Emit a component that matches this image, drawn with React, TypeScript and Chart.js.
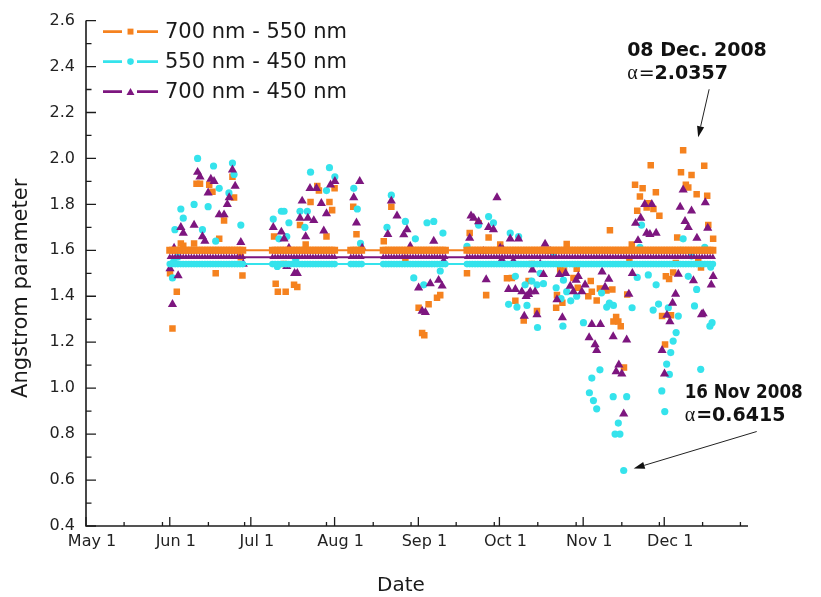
import React, { useEffect, useRef } from 'react';
import { Chart, registerables } from 'chart.js';

Chart.register(...registerables);

// ---------- colours ----------
const ORANGE = '#F5821F';
const CYAN = '#35E3EC';
const PURPLE = '#7D167F';

// ---------- axes ----------
const monthDays = [0, 31, 61, 92, 123, 153, 184, 214]; // days since May 1, 2008
const monthLabels = ['May 1', 'Jun 1', 'Jul 1', 'Aug 1', 'Sep 1', 'Oct 1', 'Nov 1', 'Dec 1'];
const xMinorTicks = [14.1, 28.3, 45.3, 58.7, 75.1, 89, 106.3, 120.3, 137, 151.1, 167.2, 181.4, 198.3, 212.2, 228.2, 242.2];
const yTicks = [0.4, 0.6, 0.8, 1.0, 1.2, 1.4, 1.6, 1.8, 2.0, 2.2, 2.4, 2.6];
const yMinorTicks = [0.5, 0.7, 0.9, 1.1, 1.3, 1.5, 1.7, 1.9, 2.1, 2.3, 2.5];

// ---------- legend ----------
const seriesLabels = ['700 nm - 550 nm', '550 nm - 450 nm', '700 nm - 450 nm'];

// ---------- observation periods (days since May 1) ----------
const obsPeriods: [number, number][] = [[31, 58], [69, 92], [98, 102], [110, 133], [141, 232]];

// ---------- mean values ----------
const mean700_550 = 1.60;
const mean550_450 = 1.54;
const mean700_450 = 1.57;

// ---------- daily Angstrom values [day since May 1, value] ----------
const a700_550: [number, number][] = [
  [31.1, 1.50], [32, 1.26], [33.6, 1.42], [35.1, 1.63], [36, 1.62], [40, 1.63], [40.9, 1.89], [42.2, 1.89],
  [45.6, 1.885], [46.8, 1.855], [48, 1.50], [49.3, 1.65], [51.1, 1.73], [54.2, 1.92], [54.8, 1.83], [57.3, 1.57], [57.9, 1.49],
  [69.6, 1.66], [70.2, 1.455], [71, 1.42], [73.3, 1.54], [73.9, 1.42], [77, 1.45], [78.2, 1.44], [79.2, 1.71], [81.3, 1.625],
  [83.1, 1.81], [85.6, 1.88], [86.2, 1.86], [89, 1.66], [90.1, 1.81], [91.1, 1.775], [92, 1.87],
  [98.9, 1.79], [100.1, 1.67], [110.2, 1.64], [113, 1.79],
  [118.2, 1.567], [123.1, 1.35], [124.4, 1.24], [125.2, 1.23], [126.8, 1.365], [129.9, 1.394], [131.1, 1.405],
  [141, 1.50], [142, 1.675], [145.3, 1.718], [148.1, 1.405], [149, 1.656], [153.3, 1.625], [155.8, 1.478], [157.6, 1.48],
  [158.9, 1.38], [162, 1.295], [163.8, 1.466], [165, 1.54], [166.9, 1.336], [174, 1.35], [174.3, 1.405], [175.5, 1.517],
  [176.3, 1.372], [176.9, 1.512], [177.9, 1.627], [180.4, 1.48], [181.6, 1.52], [182, 1.437], [185.9, 1.40], [186.8, 1.466],
  [187.2, 1.42], [189, 1.382], [190.2, 1.434], [192.6, 1.425], [193.9, 1.687], [194.8, 1.43], [195.2, 1.29], [196.2, 1.31],
  [197, 1.29], [197.9, 1.27], [199.1, 1.09], [200.3, 1.408], [201.1, 1.553], [202, 1.625], [203.2, 1.885], [204, 1.772],
  [205, 1.834], [206, 1.87], [207.5, 1.786], [208.2, 1.805], [209, 1.97], [210, 1.78], [210.9, 1.853], [212.2, 1.75],
  [213.2, 1.314], [214.3, 1.19], [214.6, 1.487], [215.8, 1.475], [216.5, 1.317], [217.3, 1.503], [218.3, 1.545], [218.8, 1.656],
  [220.2, 1.94], [221, 2.0357], [222, 1.885], [222.9, 1.873], [224.1, 1.928], [226, 1.844], [226.6, 1.553], [227.6, 1.525],
  [228.8, 1.968], [229.9, 1.838], [230.3, 1.71], [232.1, 1.65],
];

const a550_450: [number, number][] = [
  [32, 1.48], [32.4, 1.55], [32.9, 1.69], [33.9, 1.57], [35.1, 1.78], [36, 1.74], [40, 1.80], [41.3, 2.0], [43.1, 1.69],
  [45.2, 1.79], [47.2, 1.967], [48, 1.64], [49.3, 1.87], [52.9, 1.85], [54.2, 1.98], [54.8, 1.93], [57.3, 1.71],
  [69.3, 1.736], [70.8, 1.53], [71.4, 1.65], [72.3, 1.77], [73.3, 1.77], [74.3, 1.66], [75.1, 1.72], [77.6, 1.56],
  [79.2, 1.77], [81, 1.70], [81.9, 1.77], [83.1, 1.94], [89, 1.86], [90.1, 1.96], [92.1, 1.92],
  [99.1, 1.87], [100.4, 1.78], [101.6, 1.63], [111.4, 1.70], [113, 1.84],
  [118.2, 1.726], [121.3, 1.48], [121.9, 1.65], [125, 1.45], [126.2, 1.72], [128.7, 1.726], [131.1, 1.51], [132.1, 1.675],
  [141, 1.617], [145.3, 1.71], [149, 1.747], [150.8, 1.72], [156.4, 1.365], [157, 1.675], [158.9, 1.487], [159.5, 1.353],
  [160.1, 1.66], [162.5, 1.45], [163.2, 1.36], [165, 1.466], [166.9, 1.45], [167.1, 1.264], [168.1, 1.50], [169.3, 1.455],
  [173, 1.59], [174, 1.437], [175.8, 1.39], [176.5, 1.27], [176.7, 1.47], [177.9, 1.42], [179.4, 1.38], [181.6, 1.40],
  [184.1, 1.285], [186.3, 0.98], [187.2, 1.044], [187.8, 0.946], [189, 0.91], [190.2, 1.08], [190.8, 1.415], [192.7, 1.353],
  [193.7, 1.37], [195.2, 1.36], [195.1, 0.963], [195.8, 0.80], [197, 0.848], [197.6, 0.80], [199, 0.6415], [200.1, 0.963],
  [202.1, 1.35], [204, 1.482], [205, 1.613], [205.6, 1.71], [208.1, 1.493], [209.9, 1.34], [211, 1.45], [211.9, 1.366],
  [213.1, 0.988], [214.2, 0.898], [214.9, 1.105], [215.5, 1.35], [215.9, 1.06], [216.4, 1.155], [217.3, 1.205], [218.4, 1.242],
  [219.2, 1.314], [220.1, 1.60], [221, 1.65], [222.9, 1.487], [224.1, 1.575], [225.2, 1.358], [226, 1.43], [227.5, 1.082],
  [229, 1.613], [230.9, 1.27], [231.2, 1.527], [231.7, 1.285],
];

const a700_450: [number, number][] = [
  [31.1, 1.52], [32, 1.365], [32.6, 1.61], [34.1, 1.49], [35.1, 1.70], [36, 1.675], [40, 1.71], [41.3, 1.94], [42.2, 1.92],
  [43.1, 1.66], [44, 1.64], [45.2, 1.85], [46.2, 1.91], [47.4, 1.90], [49.3, 1.755], [51.1, 1.755], [52.3, 1.80], [53, 1.83],
  [54.2, 1.95], [55.2, 1.88], [57.3, 1.635], [58.2, 1.54],
  [69.3, 1.70], [72.3, 1.68], [73.3, 1.65], [74.3, 1.53], [75.1, 1.61], [77.2, 1.50], [78.2, 1.50], [79.2, 1.74], [80, 1.815],
  [81.3, 1.66], [82.1, 1.74], [82.9, 1.87], [84.3, 1.73], [85.3, 1.87], [87.1, 1.805], [88, 1.685], [89, 1.76], [90.5, 1.885], [92.1, 1.90],
  [99.1, 1.83], [100.1, 1.72], [101.3, 1.90], [102.2, 1.61], [111.7, 1.67], [113, 1.815], [115.1, 1.75],
  [117.6, 1.668], [118.8, 1.69], [120, 1.617], [123.1, 1.437], [124.4, 1.336], [125.6, 1.33], [127.4, 1.455], [128.7, 1.64],
  [130.5, 1.47], [131.8, 1.445], [132.4, 1.553],
  [142, 1.653], [142.5, 1.75], [143.5, 1.74], [145.3, 1.725], [147.1, 1.596], [148.1, 1.473], [149, 1.70], [150.8, 1.69],
  [152.1, 1.83], [153.3, 1.61], [153.9, 1.56], [154.3, 1.603], [156.4, 1.43], [157, 1.65], [158.2, 1.553], [158.9, 1.43],
  [160.1, 1.65], [161.3, 1.42], [162.2, 1.314], [162.9, 1.40], [163.8, 1.408], [164.4, 1.42], [165.2, 1.515], [166.2, 1.42],
  [166.9, 1.32], [168.1, 1.54], [169.3, 1.495], [169.9, 1.627], [171.8, 1.596], [174.3, 1.386], [175.2, 1.495], [176.3, 1.307],
  [177.5, 1.50], [179.2, 1.444], [180.4, 1.42], [181.4, 1.47], [182.2, 1.487], [183.5, 1.42], [184.7, 1.45], [186.2, 1.22],
  [187.2, 1.278], [188.4, 1.19], [189, 1.165], [190.4, 1.278], [191, 1.506], [192.1, 1.44], [193.5, 1.475], [195.1, 1.225],
  [196.2, 1.072], [197.2, 1.102], [198.3, 1.062], [199, 0.888], [200.1, 1.21], [200.9, 1.41], [202.2, 1.50], [203.4, 1.718],
  [204.3, 1.643], [205.3, 1.74], [206.8, 1.80], [207.5, 1.675], [208.7, 1.67], [209.4, 1.80], [211, 1.675], [213.2, 1.165],
  [214.1, 1.062], [215, 1.318], [216.1, 1.29], [217.1, 1.37], [218.2, 1.41], [219.2, 1.497], [219.9, 1.788], [221, 1.863],
  [221.7, 1.726], [222.9, 1.70], [224.1, 1.772], [224.8, 1.468], [226.1, 1.653], [227.8, 1.32], [228.4, 1.325], [229.2, 1.808],
  [230.1, 1.697], [231.4, 1.45], [232.1, 1.487],
];

// ---------- annotations ----------
const noteMax = { day: 221, value: 2.0357, title: '08 Dec. 2008', alpha: '2.0357' };
const noteMin = { day: 199, value: 0.6415, title: '16 Nov 2008', alpha: '0.6415' };

const FONT = '"DejaVu Sans", "Liberation Sans", Arial, sans-serif';

const obsDays: number[] = [];
obsPeriods.forEach(([a, b]) => { for (let d = a; d <= b; d++) obsDays.push(d); });

const toXY = (arr: [number, number][]) => arr.map(([x, y]) => ({ x, y }));
const meanLine = (m: number) => obsDays.map((d) => ({ x: d, y: m }));

function drawMarker(ctx: CanvasRenderingContext2D, style: string, x: number, y: number, r: number, color: string) {
  ctx.fillStyle = color;
  ctx.beginPath();
  if (style === 'rect') {
    const s = r * Math.SQRT1_2;
    ctx.rect(x - s, y - s, 2 * s, 2 * s);
  } else if (style === 'circle') {
    ctx.arc(x, y, r, 0, Math.PI * 2);
  } else {
    ctx.moveTo(x, y - r);
    ctx.lineTo(x + 0.866 * r, y + 0.5 * r);
    ctx.lineTo(x - 0.866 * r, y + 0.5 * r);
    ctx.closePath();
  }
  ctx.fill();
}

function drawArrow(ctx: CanvasRenderingContext2D, x1: number, y1: number, x2: number, y2: number) {
  const ang = Math.atan2(y2 - y1, x2 - x1);
  const L = 11, W = 3.6;
  const bx = x2 - L * Math.cos(ang), by = y2 - L * Math.sin(ang);
  ctx.strokeStyle = '#222';
  ctx.lineWidth = 1;
  ctx.beginPath();
  ctx.moveTo(x1, y1);
  ctx.lineTo(bx, by);
  ctx.stroke();
  ctx.fillStyle = '#111';
  ctx.beginPath();
  ctx.moveTo(x2, y2);
  ctx.lineTo(bx + W * Math.sin(ang), by - W * Math.cos(ang));
  ctx.lineTo(bx - W * Math.sin(ang), by + W * Math.cos(ang));
  ctx.closePath();
  ctx.fill();
}

const overlayPlugin = {
  id: 'overlay',
  afterDraw(chart: any) {
    const { ctx, chartArea: ca, scales } = chart;
    const xs = scales.x, ys = scales.y;
    ctx.save();

    // axis lines
    ctx.strokeStyle = '#1c1c1c';
    ctx.lineWidth = 1.6;
    ctx.beginPath();
    ctx.moveTo(ca.left, ca.top);
    ctx.lineTo(ca.left, ca.bottom);
    ctx.lineTo(ca.right, ca.bottom);
    ctx.stroke();

    // ticks (inward)
    ctx.lineWidth = 1.3;
    ctx.beginPath();
    yTicks.forEach((v) => { const p = ys.getPixelForValue(v); ctx.moveTo(ca.left, p); ctx.lineTo(ca.left + 10, p); });
    yMinorTicks.forEach((v) => { const p = ys.getPixelForValue(v); ctx.moveTo(ca.left, p); ctx.lineTo(ca.left + 5.5, p); });
    monthDays.forEach((v) => { const p = xs.getPixelForValue(v); ctx.moveTo(p, ca.bottom); ctx.lineTo(p, ca.bottom - 9); });
    xMinorTicks.forEach((v) => { const p = xs.getPixelForValue(v); ctx.moveTo(p, ca.bottom); ctx.lineTo(p, ca.bottom - 4); });
    ctx.stroke();

    // axis titles
    ctx.fillStyle = '#1a1a1a';
    ctx.font = `21px ${FONT}`;
    ctx.textAlign = 'center';
    ctx.textBaseline = 'middle';
    ctx.save();
    ctx.translate(22, (ca.top + ca.bottom) / 2 + 15);
    ctx.rotate(-Math.PI / 2);
    ctx.fillText('Angstrom parameter', 0, 0);
    ctx.restore();
    ctx.font = `20px ${FONT}`;
    ctx.textBaseline = 'alphabetic';
    ctx.fillText('Date', (ca.left + ca.right) / 2 - 16, 591);

    // legend
    const styles = ['rect', 'circle', 'triangle'];
    const colors = [ORANGE, CYAN, PURPLE];
    const radii = [4.2, 3.3, 4.6];
    seriesLabels.forEach((label, i) => {
      const yy = ca.top + 11 + i * 30;
      const x0 = ca.left;
      ctx.strokeStyle = colors[i];
      ctx.lineWidth = 2.6;
      ctx.beginPath();
      ctx.moveTo(x0 + 17, yy); ctx.lineTo(x0 + 36, yy);
      ctx.moveTo(x0 + 51, yy); ctx.lineTo(x0 + 72, yy);
      ctx.stroke();
      drawMarker(ctx, styles[i], x0 + 44.5, styles[i] === 'triangle' ? yy + 1 : yy, radii[i], colors[i]);
      ctx.fillStyle = '#1a1a1a';
      ctx.font = `21px ${FONT}`;
      ctx.textAlign = 'left';
      ctx.textBaseline = 'middle';
      ctx.fillText(label, x0 + 79, yy + 1);
    });

    // annotations
    const drawNote = (n: any, dxText: number, dy1: number, dy2: number, boldEq: boolean, a1: number[], a2: number[], maxW?: number) => {
      const px = xs.getPixelForValue(n.day), py = ys.getPixelForValue(n.value);
      const tx = px + dxText;
      ctx.fillStyle = '#111';
      ctx.textAlign = 'left';
      ctx.textBaseline = 'alphabetic';
      ctx.font = `bold 19px ${FONT}`;
      if (maxW) ctx.fillText(n.title, tx, py + dy1, maxW);
      else ctx.fillText(n.title, tx, py + dy1);
      let cx = tx;
      ctx.font = '20px "Liberation Serif", "DejaVu Serif", serif';
      ctx.fillText('α', cx, py + dy2);
      cx += ctx.measureText('α').width + 1;
      ctx.font = boldEq ? `bold 19px ${FONT}` : `19px ${FONT}`;
      ctx.fillText('=', cx, py + dy2);
      cx += ctx.measureText('=').width;
      ctx.font = `bold 19px ${FONT}`;
      ctx.fillText(n.alpha, cx, py + dy2);
      drawArrow(ctx, px + a1[0], py + a1[1], px + a2[0], py + a2[1]);
    };
    drawNote(noteMax, -56, -94, -71, false, [26, -61], [15, -13]);
    drawNote(noteMin, 61, -73, -50, true, [133, -39], [10, -2], 118);

    ctx.restore();
  },
};

export default function App() {
  const ref = useRef<HTMLCanvasElement | null>(null);

  useEffect(() => {
    if (!ref.current) return;
    const tickFont = { family: FONT, size: 16 };
    const chart = new Chart(ref.current, {
      type: 'scatter',
      data: {
        datasets: [
          { label: seriesLabels[2] + ' mean', data: meanLine(mean700_450), showLine: true, borderColor: PURPLE, borderWidth: 2,
            pointStyle: 'triangle', pointRadius: 3.6, pointBackgroundColor: PURPLE, pointBorderWidth: 0, order: 1 },
          { label: seriesLabels[1] + ' mean', data: meanLine(mean550_450), showLine: true, borderColor: CYAN, borderWidth: 2,
            pointStyle: 'circle', pointRadius: 3.3, pointBackgroundColor: CYAN, pointBorderWidth: 0, order: 2 },
          { label: seriesLabels[0] + ' mean', data: meanLine(mean700_550), showLine: true, borderColor: ORANGE, borderWidth: 2,
            pointStyle: 'rect', pointRadius: 5, pointBackgroundColor: ORANGE, pointBorderWidth: 0, order: 3 },
          { label: seriesLabels[2], data: toXY(a700_450), showLine: false, pointStyle: 'triangle', pointRadius: 5.3,
            pointBackgroundColor: PURPLE, pointBorderWidth: 0, order: 4 },
          { label: seriesLabels[1], data: toXY(a550_450), showLine: false, pointStyle: 'circle', pointRadius: 3.6,
            pointBackgroundColor: CYAN, pointBorderWidth: 0, order: 5 },
          { label: seriesLabels[0], data: toXY(a700_550), showLine: false, pointStyle: 'rect', pointRadius: 4.6,
            pointBackgroundColor: ORANGE, pointBorderWidth: 0, order: 6 },
        ],
      },
      options: {
        animation: false,
        responsive: false,
        devicePixelRatio: 1,
        layout: { padding: { top: 18, right: 73, left: 0, bottom: 0 } },
        plugins: { legend: { display: false }, tooltip: { enabled: false } },
        scales: {
          x: {
            type: 'linear', min: 0, max: 245,
            grid: { display: false, drawTicks: false },
            border: { display: false },
            ticks: {
              autoSkip: false, maxRotation: 0, minRotation: 0, padding: 6, labelOffset: 6,
              font: tickFont, color: '#222',
              callback: (_v: any, i: number) => monthLabels[i] ?? '',
            },
            afterBuildTicks: (s: any) => { s.ticks = monthDays.map((v) => ({ value: v })); },
            afterFit: (s: any) => { s.height = 71; },
          },
          y: {
            type: 'linear', min: 0.4, max: 2.6,
            grid: { display: false, drawTicks: false },
            border: { display: false },
            ticks: { padding: 11, font: tickFont, color: '#222', callback: (v: any) => Number(v).toFixed(1) },
            afterBuildTicks: (s: any) => { s.ticks = yTicks.map((v) => ({ value: v })); },
            afterFit: (s: any) => { s.width = 86; },
          },
        },
      } as any,
      plugins: [overlayPlugin],
    });
    return () => chart.destroy();
  }, []);

  return (
    <div style={{ position: 'absolute', left: 0, top: 0, width: 821, height: 597, background: '#fff' }}>
      <canvas ref={ref} width={821} height={597} style={{ display: 'block' }} />
    </div>
  );
}
